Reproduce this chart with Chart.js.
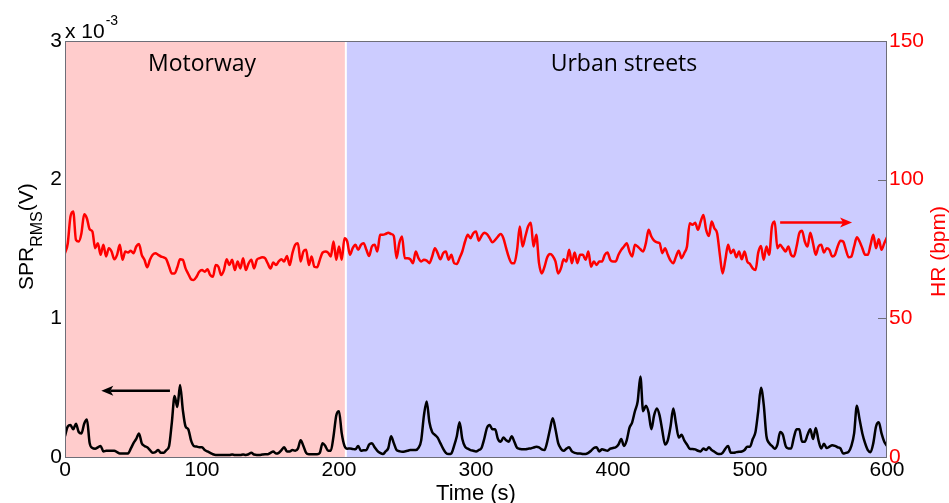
<!DOCTYPE html>
<html>
<head>
<meta charset="utf-8">
<title>SPR RMS and heart rate while driving</title>
<script src="https://cdn.jsdelivr.net/npm/chart.js@4.4.1/dist/chart.umd.min.js"></script>
<style>
  html, body { margin: 0; padding: 0; background: #fff; }
  #wrap { width: 949px; height: 503px; }
</style>
</head>
<body>
<div id="wrap"><canvas id="chart" width="949" height="503"></canvas></div>
<script>
// Sampling of both traces (seconds between samples)
const SAMPLE_STEP_S = 2;

// Heart rate (bpm), one value every 2 s from t = 0 to 600 s
const hrBpm = [
  73.5, 77.0, 86.7, 88.5, 78.3, 77.7, 80.7, 87.5, 86.0, 82.1,
  81.3, 75.3, 77.1, 72.9, 76.5, 72.3, 75.3, 74.1, 71.3, 72.9,
  76.5, 71.1, 74.1, 73.7, 74.4, 73.5, 75.9, 76.8, 72.9, 71.1,
  68.4, 71.1, 72.9, 73.5, 72.9, 72.3, 72.0, 71.3, 68.6, 66.2,
  66.2, 68.4, 71.3, 71.1, 68.0, 66.0, 64.1, 63.8, 65.0, 66.8,
  67.4, 66.8, 67.7, 65.6, 65.0, 69.2, 68.6, 65.6, 67.4, 71.3,
  69.2, 71.1, 67.4, 70.5, 68.0, 71.7, 67.4, 69.8, 71.1, 68.0,
  71.1, 71.7, 72.0, 71.7, 69.8, 68.0, 70.1, 69.2, 70.5, 71.3,
  70.5, 72.5, 69.2, 73.5, 76.5, 77.1, 70.5, 74.1, 74.7, 69.2,
  72.3, 68.6, 68.4, 71.1, 73.7, 74.1, 73.7, 72.3, 77.7, 71.1,
  75.9, 71.1, 78.9, 77.7, 72.9, 75.3, 76.5, 74.7, 76.5, 77.1,
  74.7, 72.5, 75.9, 76.5, 74.1, 80.1, 80.1, 80.4, 80.9, 80.4,
  79.7, 71.7, 77.1, 79.5, 71.7, 71.7, 71.3, 69.9, 74.1, 71.7,
  70.5, 71.1, 70.8, 69.9, 72.3, 75.3, 73.5, 71.3, 73.5, 74.1,
  71.1, 72.9, 69.9, 69.6, 71.7, 74.1, 77.7, 80.1, 78.9, 80.7,
  81.3, 78.0, 79.7, 80.9, 80.4, 78.9, 77.4, 78.3, 79.5, 80.4,
  78.9, 75.3, 72.0, 69.9, 69.9, 74.7, 83.1, 75.9, 79.5, 83.1,
  84.5, 75.9, 80.1, 69.9, 66.2, 68.6, 72.0, 73.2, 72.5, 70.5,
  66.2, 68.0, 71.3, 70.5, 74.7, 69.9, 73.7, 69.9, 72.9, 72.9,
  71.1, 74.1, 68.6, 70.5, 69.2, 70.5, 70.5, 72.9, 73.7, 71.1,
  70.5, 70.5, 72.9, 74.7, 75.9, 77.1, 74.1, 72.3, 76.5, 75.9,
  74.9, 74.1, 77.1, 81.9, 79.5, 78.0, 77.4, 77.1, 73.5, 75.3,
  72.9, 70.8, 69.9, 72.3, 74.4, 71.7, 73.5, 75.9, 84.3, 83.7,
  84.5, 81.9, 84.9, 87.3, 81.9, 79.7, 84.9, 82.5, 80.7, 72.9,
  66.2, 71.1, 76.5, 73.5, 74.7, 72.0, 74.1, 71.3, 74.1, 70.5,
  69.6, 68.0, 67.4, 73.7, 76.1, 71.1, 75.9, 72.9, 83.1, 84.9,
  75.3, 76.5, 75.3, 74.1, 75.9, 72.9, 72.3, 75.9, 80.7, 81.6,
  77.7, 75.9, 80.9, 77.1, 72.9, 75.9, 76.5, 73.7, 75.3, 74.7,
  72.3, 72.9, 75.9, 78.0, 77.7, 74.7, 72.0, 72.3, 75.9, 79.2,
  77.7, 75.3, 72.9, 72.9, 76.5, 80.1, 75.3, 78.5, 74.7, 77.1,
  79.2
];

// SPR RMS in units of 1e-3 V, same sampling as the heart rate
const sprRmsMilli = [
  0.15, 0.22, 0.23, 0.20, 0.24, 0.18, 0.17, 0.24, 0.27, 0.10,
  0.065, 0.06, 0.07, 0.08, 0.04, 0.045, 0.045, 0.045, 0.045, 0.035,
  0.026, 0.026, 0.026, 0.026, 0.06, 0.10, 0.13, 0.17, 0.10, 0.08,
  0.07, 0.05, 0.03, 0.035, 0.05, 0.03, 0.03, 0.05, 0.08, 0.25,
  0.44, 0.36, 0.52, 0.34, 0.22, 0.20, 0.12, 0.08, 0.075, 0.07,
  0.07, 0.05, 0.04, 0.03, 0.02, 0.015, 0.015, 0.015, 0.015, 0.015,
  0.015, 0.018, 0.015, 0.015, 0.015, 0.018, 0.015, 0.02, 0.03, 0.018,
  0.015, 0.015, 0.018, 0.02, 0.02, 0.03, 0.04, 0.025, 0.03, 0.05,
  0.07, 0.04, 0.04, 0.05, 0.045, 0.06, 0.12, 0.08, 0.03, 0.02,
  0.02, 0.02, 0.02, 0.03, 0.10, 0.08, 0.045, 0.045, 0.15, 0.30,
  0.33, 0.17, 0.08, 0.06, 0.062, 0.058, 0.055, 0.08, 0.045, 0.048,
  0.05, 0.09, 0.10, 0.07, 0.045, 0.03, 0.021, 0.04, 0.065, 0.15,
  0.10, 0.05, 0.042, 0.038, 0.04, 0.045, 0.05, 0.05, 0.05, 0.065,
  0.12, 0.30, 0.40, 0.25, 0.18, 0.16, 0.14, 0.10, 0.06, 0.03,
  0.021, 0.026, 0.08, 0.15, 0.25, 0.13, 0.075, 0.06, 0.05, 0.045,
  0.04, 0.05, 0.065, 0.13, 0.21, 0.23, 0.20, 0.20, 0.13, 0.11,
  0.14, 0.12, 0.11, 0.15, 0.11, 0.065, 0.058, 0.055, 0.055, 0.06,
  0.062, 0.068, 0.074, 0.07, 0.055, 0.05, 0.11, 0.20, 0.28, 0.20,
  0.10, 0.06, 0.045, 0.06, 0.07, 0.04, 0.03, 0.026, 0.025, 0.022,
  0.021, 0.03, 0.045, 0.065, 0.07, 0.04, 0.055, 0.05, 0.045, 0.06,
  0.065, 0.07, 0.09, 0.13, 0.08, 0.12, 0.21, 0.25, 0.33, 0.40,
  0.58, 0.33, 0.37, 0.32, 0.20, 0.30, 0.35, 0.30, 0.19, 0.09,
  0.12, 0.22, 0.35, 0.24, 0.14, 0.16, 0.12, 0.09, 0.06, 0.058,
  0.055, 0.045, 0.04, 0.062, 0.05, 0.07, 0.05, 0.038, 0.025, 0.021,
  0.03, 0.06, 0.08, 0.03, 0.03, 0.035, 0.038, 0.04, 0.05, 0.074,
  0.074, 0.13, 0.18, 0.33, 0.50, 0.38, 0.15, 0.10, 0.08, 0.06,
  0.09, 0.18, 0.16, 0.08, 0.062, 0.062, 0.14, 0.20, 0.20, 0.11,
  0.11, 0.16, 0.20, 0.13, 0.21, 0.12, 0.062, 0.095, 0.065, 0.075,
  0.085, 0.08, 0.07, 0.062, 0.025, 0.03, 0.038, 0.08, 0.17, 0.37,
  0.27, 0.17, 0.10, 0.05, 0.035, 0.10, 0.22, 0.25, 0.17, 0.11,
  0.08
];

// Driving segments: names, boundaries (s) and where each name is centred (s)
const segmentNames = ['Motorway', 'Urban streets'];
const segmentBounds = [0, 205, 600];
const segmentLabelAt = [100, 408];
const segmentColors = ['#FFCCCC', '#CCCCFF'];

// Axis ticks
const timeTicks = [0, 100, 200, 300, 400, 500, 600];
const sprTicks = [0, 1, 2, 3];
const hrTicks = [0, 50, 100, 150];

const timeS = hrBpm.map((_, i) => i * SAMPLE_STEP_S);
const hrPoints = timeS.map((t, i) => ({ x: t, y: hrBpm[i] }));
const sprPoints = timeS.map((t, i) => ({ x: t, y: sprRmsMilli[i] }));

const AXIS_FONT = '"Liberation Sans", Arial, sans-serif';
const LABEL_FONT = '"Open Sans", "Lato", sans-serif';
const FRAME_COLOR = '#6e6e78';

// Arrows pointing each trace to its axis (data coordinates of their own axis)
const arrows = [
  { axis: 'ySpr', color: '#000000', from: [76.6, 0.478], to: [26.5, 0.478] },
  { axis: 'yHr', color: '#FF0000', from: [522, 84.6], to: [574.5, 84.6] }
];

function drawArrow(ctx, x1, y1, x2, y2, color) {
  const ang = Math.atan2(y2 - y1, x2 - x1);
  const headLen = 12, headHalf = 5, notch = 9;
  ctx.save();
  ctx.strokeStyle = color;
  ctx.fillStyle = color;
  ctx.lineWidth = 2.5;
  ctx.beginPath();
  ctx.moveTo(x1, y1);
  ctx.lineTo(x2 - Math.cos(ang) * notch, y2 - Math.sin(ang) * notch);
  ctx.stroke();
  ctx.translate(x2, y2);
  ctx.rotate(ang);
  ctx.beginPath();
  ctx.moveTo(0, 0);
  ctx.lineTo(-headLen, -headHalf);
  ctx.lineTo(-notch, 0);
  ctx.lineTo(-headLen, headHalf);
  ctx.closePath();
  ctx.fill();
  ctx.restore();
}

const decorations = {
  id: 'decorations',
  beforeDraw(chart) {
    const { ctx, chartArea: a, scales } = chart;
    const x = scales.x;
    ctx.save();
    for (let i = 0; i < segmentNames.length; i++) {
      const x0 = x.getPixelForValue(segmentBounds[i]);
      const x1 = x.getPixelForValue(segmentBounds[i + 1]);
      ctx.fillStyle = segmentColors[i];
      ctx.fillRect(x0, a.top, x1 - x0, a.bottom - a.top);
    }
    // white seam between the segments
    ctx.strokeStyle = '#FFFFFF';
    ctx.lineWidth = 2;
    for (let i = 1; i < segmentBounds.length - 1; i++) {
      const xs = x.getPixelForValue(segmentBounds[i]);
      ctx.beginPath();
      ctx.moveTo(xs, a.top);
      ctx.lineTo(xs, a.bottom);
      ctx.stroke();
    }
    ctx.restore();
  },
  afterDatasetsDraw(chart) {
    const { ctx, chartArea: a, scales } = chart;
    ctx.save();
    // frame
    ctx.strokeStyle = FRAME_COLOR;
    ctx.lineWidth = 1;
    ctx.strokeRect(a.left + 0.5, a.top + 0.5, a.right - a.left - 1, a.bottom - a.top);
    // inward ticks of the heart-rate axis
    const yHr = scales.yHr;
    yHr.ticks.forEach(t => {
      const py = Math.round(yHr.getPixelForValue(t.value)) + 0.5;
      ctx.beginPath();
      ctx.moveTo(a.right - 9, py);
      ctx.lineTo(a.right, py);
      ctx.stroke();
    });
    // segment names
    ctx.fillStyle = '#000000';
    ctx.font = '23px ' + LABEL_FONT;
    ctx.textAlign = 'center';
    ctx.textBaseline = 'alphabetic';
    segmentNames.forEach((name, i) => {
      ctx.fillText(name, scales.x.getPixelForValue(segmentLabelAt[i]), a.top + 30);
    });
    ctx.restore();
    // arrows
    arrows.forEach(ar => {
      const ys = scales[ar.axis];
      drawArrow(ctx,
        scales.x.getPixelForValue(ar.from[0]), ys.getPixelForValue(ar.from[1]),
        scales.x.getPixelForValue(ar.to[0]), ys.getPixelForValue(ar.to[1]), ar.color);
    });
  },
  afterDraw(chart) {
    const { ctx, chartArea: a } = chart;
    ctx.save();
    ctx.textBaseline = 'alphabetic';
    // exponent of the SPR axis
    ctx.fillStyle = '#000000';
    ctx.textAlign = 'left';
    ctx.font = '21px ' + AXIS_FONT;
    ctx.fillText('x 10', a.left, a.top - 3);
    const w = ctx.measureText('x 10').width;
    ctx.font = '14px ' + AXIS_FONT;
    ctx.fillText('-3', a.left + w + 1, a.top - 16);

    // x axis title
    ctx.font = '22px ' + AXIS_FONT;
    ctx.textAlign = 'center';
    ctx.fillText('Time (s)', (a.left + a.right) / 2, 500);

    // left axis title with subscript, reading upwards
    ctx.save();
    ctx.translate(33, 290);
    ctx.rotate(-Math.PI / 2);
    ctx.textAlign = 'left';
    ctx.font = '21px ' + AXIS_FONT;
    ctx.fillText('SPR', 0, 0);
    let off = ctx.measureText('SPR').width;
    ctx.font = '16px ' + AXIS_FONT;
    ctx.fillText('RMS', off, 9);
    off += ctx.measureText('RMS').width;
    ctx.font = '21px ' + AXIS_FONT;
    ctx.fillText('(V)', off, 0);
    ctx.restore();

    // right axis title, reading upwards
    ctx.save();
    ctx.translate(945, 297);
    ctx.rotate(-Math.PI / 2);
    ctx.textAlign = 'left';
    ctx.fillStyle = '#FF0000';
    ctx.font = '21px ' + AXIS_FONT;
    ctx.fillText('HR (bpm)', 0, 0);
    ctx.restore();
    ctx.restore();
  }
};

new Chart(document.getElementById('chart'), {
  type: 'line',
  data: {
    datasets: [
      {
        label: 'HR',
        data: hrPoints,
        yAxisID: 'yHr',
        borderColor: '#FF0000',
        borderWidth: 2.5,
        pointRadius: 0,
        cubicInterpolationMode: 'monotone',
        fill: false
      },
      {
        label: 'SPR RMS',
        data: sprPoints,
        yAxisID: 'ySpr',
        borderColor: '#000000',
        borderWidth: 2.5,
        pointRadius: 0,
        cubicInterpolationMode: 'monotone',
        fill: false
      }
    ]
  },
  options: {
    responsive: false,
    animation: false,
    events: [],
    layout: { padding: { top: 41, left: 0, right: 0, bottom: 0 } },
    plugins: { legend: { display: false }, tooltip: { enabled: false } },
    scales: {
      x: {
        type: 'linear',
        min: 0,
        max: 600,
        afterBuildTicks: s => { s.ticks = timeTicks.map(v => ({ value: v })); },
        ticks: { color: '#000', font: { family: AXIS_FONT, size: 21 }, padding: 1, maxRotation: 0, autoSkip: false },
        grid: { display: false, drawTicks: false },
        border: { display: false },
        afterFit: s => { s.height = 46; }
      },
      ySpr: {
        type: 'linear',
        position: 'left',
        min: 0,
        max: 3,
        afterBuildTicks: s => { s.ticks = sprTicks.map(v => ({ value: v })); },
        ticks: { color: '#000', font: { family: AXIS_FONT, size: 21 }, padding: 3 },
        grid: { display: false, drawTicks: false },
        border: { display: false },
        afterFit: s => { s.width = 65; }
      },
      yHr: {
        type: 'linear',
        position: 'right',
        min: 0,
        max: 150,
        afterBuildTicks: s => { s.ticks = hrTicks.map(v => ({ value: v })); },
        ticks: { color: '#FF0000', font: { family: AXIS_FONT, size: 21 }, padding: 2 },
        grid: { display: false, drawTicks: false },
        border: { display: false },
        afterFit: s => { s.width = 62; }
      }
    }
  },
  plugins: [decorations]
});
</script>
</body>
</html>
